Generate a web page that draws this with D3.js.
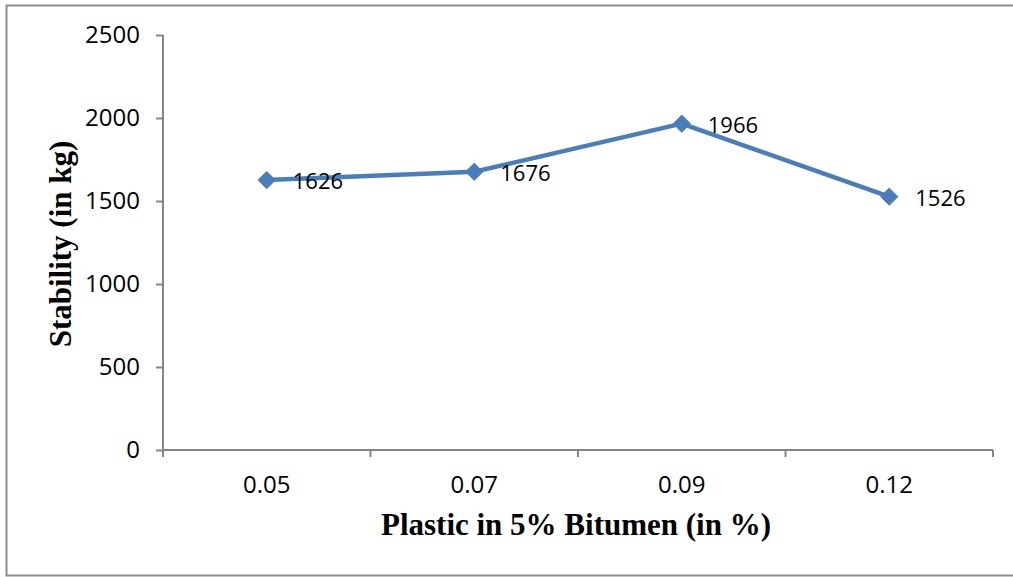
<!DOCTYPE html>
<html>
<head>
<meta charset="utf-8">
<script src="https://cdn.jsdelivr.net/npm/d3@7"></script>
<style>
  html, body { margin: 0; padding: 0; background: #fff; }
  svg { display: block; }
</style>
</head>
<body>
<svg id="chart" width="1013" height="577"></svg>
<script>
// Marshall stability vs plastic content
const categories = ["0.05", "0.07", "0.09", "0.12"];
const stability = [1626, 1676, 1966, 1526];
const yTicks = [0, 500, 1000, 1500, 2000, 2500];
const xTitle = "Plastic in 5% Bitumen (in %)";
const yTitle = "Stability (in kg)";

const svg = d3.select("#chart");
const W = 1013, H = 577;
const plot = { left: 163, right: 993, top: 35, bottom: 450 };

// outer frame (open on the right edge)
svg.append("path")
  .attr("d", `M${W + 2},5.5 H6.5 V575.5 H${W + 2}`)
  .attr("fill", "none")
  .attr("stroke", "#8c8c8c")
  .attr("stroke-width", 2);

const x = d3.scaleBand().domain(categories).range([plot.left, plot.right]).padding(0);
const y = d3.scaleLinear().domain([0, 2500]).range([plot.bottom, plot.top]);

const axisColor = "#868686";
const tickFont = "'Open Sans', 'DejaVu Sans', sans-serif";
const titleFont = "'Liberation Serif', 'Times New Roman', serif";

// y axis
const yAxis = svg.append("g")
  .attr("transform", `translate(${plot.left},0)`)
  .call(d3.axisLeft(y).tickValues(yTicks).tickSize(7).tickFormat(d3.format("d")));
yAxis.select(".domain").attr("stroke", axisColor).attr("stroke-width", 2).attr("d", `M0,${plot.top}V${plot.bottom}`);
yAxis.selectAll(".tick line").attr("stroke", axisColor).attr("stroke-width", 2);
yAxis.selectAll(".tick text")
  .attr("font-family", tickFont).attr("font-size", 24).attr("fill", "#000")
  .attr("x", -23).attr("dy", "0.33em");

// x axis: ticks sit between categories
const xAxisG = svg.append("g").attr("transform", `translate(0,${plot.bottom})`);
xAxisG.append("line")
  .attr("x1", plot.left).attr("x2", plot.right)
  .attr("stroke", axisColor).attr("stroke-width", 2);
const boundaries = categories.map(c => x(c)).concat([x(categories[categories.length - 1]) + x.bandwidth()]);
xAxisG.selectAll("line.tk").data(boundaries).join("line")
  .attr("class", "tk")
  .attr("x1", d => d).attr("x2", d => d)
  .attr("y1", 0).attr("y2", 7)
  .attr("stroke", axisColor).attr("stroke-width", 2);
xAxisG.selectAll("text").data(categories).join("text")
  .attr("x", d => x(d) + x.bandwidth() / 2)
  .attr("y", 43)
  .attr("text-anchor", "middle")
  .attr("font-family", tickFont).attr("font-size", 24).attr("fill", "#000")
  .text(d => d);

// axis titles
svg.append("text")
  .attr("x", 576)
  .attr("y", 535)
  .attr("text-anchor", "middle")
  .attr("font-family", titleFont)
  .attr("font-weight", "bold").attr("font-size", 31)
  .text(xTitle);

svg.append("text")
  .attr("transform", `translate(71,244) rotate(-90)`)
  .attr("text-anchor", "middle")
  .attr("font-family", titleFont)
  .attr("font-weight", "bold").attr("font-size", 31)
  .text(yTitle);

// series line
const blue = "#4A7EBB";
const cx = d => x(d) + x.bandwidth() / 2;
const pts = categories.map((c, i) => [cx(c), y(stability[i])]);
svg.append("path")
  .attr("d", d3.line()(pts))
  .attr("fill", "none")
  .attr("stroke", blue)
  .attr("stroke-width", 4.5)
  .attr("stroke-linejoin", "round");

// diamond markers
svg.selectAll("path.mk").data(pts).join("path")
  .attr("class", "mk")
  .attr("d", d3.symbol().type(d3.symbolDiamond2).size(190))
  .attr("transform", d => `translate(${d[0]},${d[1]})`)
  .attr("fill", blue)
  .attr("stroke", blue)
  .attr("stroke-width", 1);

// value labels to the right of each marker
svg.selectAll("text.lbl").data(pts).join("text")
  .attr("class", "lbl")
  .attr("x", d => d[0] + 26)
  .attr("y", d => d[1] + 9)
  .attr("font-family", tickFont).attr("font-size", 22).attr("fill", "#000")
  .text((d, i) => stability[i]);
</script>
</body>
</html>
